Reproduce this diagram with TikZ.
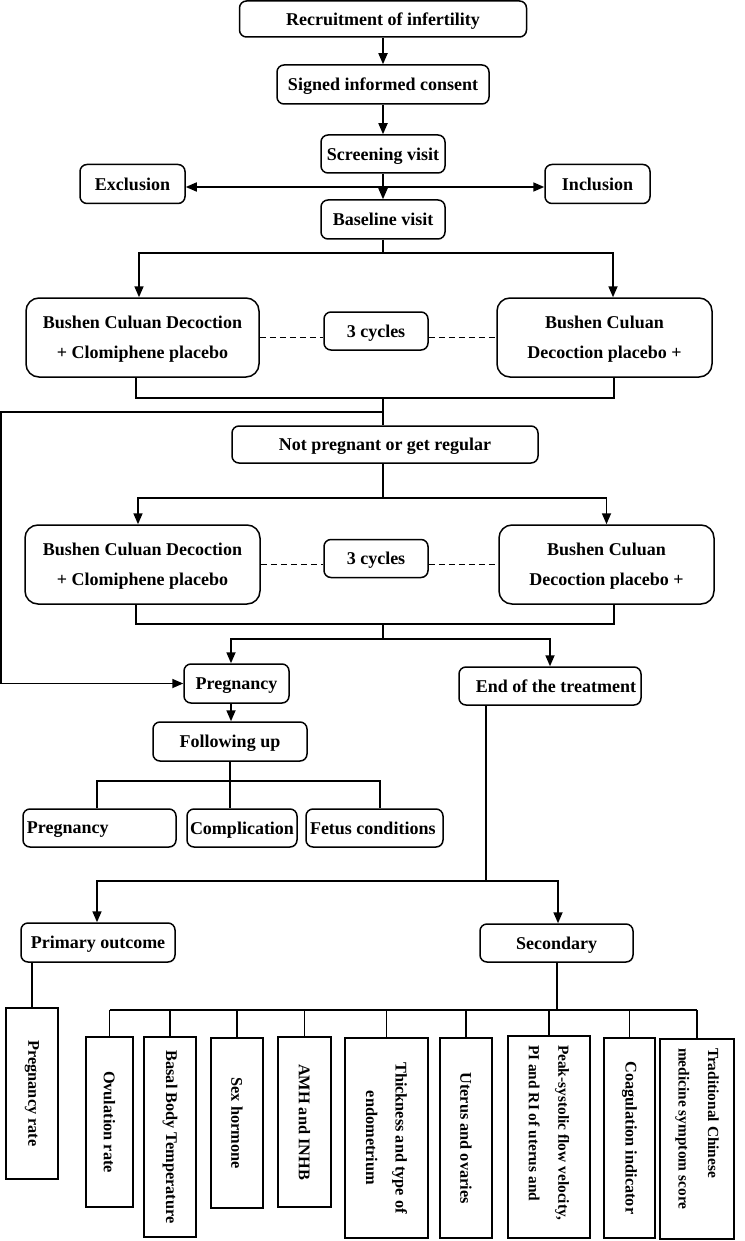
\documentclass[tikz,border=0pt]{standalone}
\usepackage{fontspec}
\setmainfont{Liberation Serif}
\usetikzlibrary{arrows.meta,calc}
\begin{document}
\begin{tikzpicture}[x=1pt,y=-1pt,
  box/.style={draw,line width=1.5pt,rounded corners=7pt,font=\fontsize{18}{29.5}\selectfont\bfseries,inner sep=2pt,align=flush center,text depth=0pt},
  bigbox/.style={box,rounded corners=13pt},
  vbox/.style={draw,line width=1.5pt,font=\fontsize{16.3}{29.5}\selectfont\bfseries,inner sep=0pt,rotate=-90,align=flush center},
  vboxs/.style={vbox,font=\fontsize{15.4}{29.5}\selectfont\bfseries,align=flush left},
  ln/.style={line width=1.3pt},
  arr/.style={line width=1.7pt,-{Triangle[length=11pt,width=9pt]}},
  darr/.style={line width=1.7pt,{Triangle[length=11pt,width=9pt]}-{Triangle[length=11pt,width=9pt]}},
  dsh/.style={line width=1.6pt,dash pattern=on 6pt off 4pt}
]
\useasboundingbox[fill=white] (0,0) rectangle (744,1241);

% top chain
\node[box,minimum width=287pt,minimum height=36pt] (rec) at (383,19) {Recruitment of infertility};
\node[box,minimum width=212pt,minimum height=39pt] (sig) at (383,84.5) {Signed informed consent};
\node[box,minimum width=124pt,minimum height=38pt] (scr) at (383,154) {Screening visit};
\node[box,minimum width=105pt,minimum height=39pt] (exc) at (132.5,184) {Exclusion};
\node[box,minimum width=105pt,minimum height=39pt] (inc) at (597.5,184) {Inclusion};
\node[box,minimum width=124pt,minimum height=39pt] (base) at (383,219.5) {Baseline visit};

% first treatment row
\node[bigbox,minimum width=233pt,minimum height=79pt] (A1) at (142.5,337.5) {Bushen Culuan Decoction\\+ Clomiphene placebo};
\node[box,minimum width=104pt,minimum height=38pt] (C1) at (376,331) {3 cycles};
\node[bigbox,minimum width=215pt,minimum height=79pt] (B1) at (604.5,337.5) {Bushen Culuan\\Decoction placebo +};

\node[box,minimum width=306pt,minimum height=37pt] (np) at (385,444.5) {Not pregnant or get regular};

% second treatment row
\node[bigbox,minimum width=235pt,minimum height=79pt] (A2) at (142.5,564.5) {Bushen Culuan Decoction\\+ Clomiphene placebo};
\node[box,minimum width=104pt,minimum height=38pt] (C2) at (376,558.5) {3 cycles};
\node[bigbox,minimum width=215pt,minimum height=79pt] (B2) at (606.5,564.5) {Bushen Culuan\\Decoction placebo +};

% outcomes
\node[box,minimum width=105pt,minimum height=39pt] (preg) at (236.5,683.5) {Pregnancy};
\node[box,minimum height=38pt,inner xsep=5pt] (end) at (550,686) {\makebox[172pt][r]{End of the treatment}};
\node[box,minimum width=154pt,minimum height=39pt] (fol) at (230,741.5) {Following up};
\node[box,minimum height=38pt,inner xsep=4pt] (p2) at (99.5,828) {\makebox[145pt][l]{Pregnancy}};
\node[box,minimum width=110pt,minimum height=38pt] (comp) at (242,828) {Complication};
\node[box,minimum height=38pt,inner xsep=4pt] (fet) at (374.5,828) {\makebox[129pt][l]{Fetus conditions}};
\node[box,minimum width=154pt,minimum height=39pt] (prim) at (98,942.5) {Primary outcome};
\node[box,minimum width=153pt,minimum height=38pt] (sec) at (556.5,943) {Secondary};

% vertical boxes (minimum width = visual height, minimum height = visual width)
\node[vbox,minimum width=171pt,minimum height=52pt] (pr) at (32,1093.5) {Pregnancy rate};
\node[vbox,minimum width=170pt,minimum height=47pt] (ov) at (109.5,1122) {Ovulation rate};
\node[vbox,minimum width=200pt,minimum height=52pt] (bbt) at (170,1137) {Basal Body Temperature};
\node[vbox,minimum width=170pt,minimum height=52pt] (sex) at (237,1123) {Sex hormone};
\node[vbox,minimum width=170pt,minimum height=53pt] (amh) at (304.5,1122) {AMH and INHB};
\node[vbox,minimum width=200pt,minimum height=83pt] (thk) at (386.5,1138) {Thickness and type of\\endometrium};
\node[vbox,minimum width=200pt,minimum height=52pt] (ut) at (466,1138) {Uterus and ovaries};
\node[vboxs,minimum width=202pt,minimum height=82pt,text width=184pt] (pk) at (549,1137) {Peak-systolic flow velocity,\\PI and RI of uterus and};
\node[vbox,minimum width=200pt,minimum height=51pt] (coag) at (629.5,1138) {Coagulation indicator};
\node[vboxs,minimum width=200pt,minimum height=74pt,text width=182pt] (tcm) at (697,1139) {Traditional Chinese\\medicine symptom score};

% junction coordinates
\coordinate (xl) at (383,187);
\coordinate (j1) at (383,253);
\coordinate (j2) at (383,398);
\coordinate (j3) at (383,412);
\coordinate (lp) at (1,412);
\coordinate (j4) at (383,498);
\coordinate (j5) at (383,624);
\coordinate (j6) at (383,639);
\coordinate (j7) at (230,781);
\coordinate (j8) at (486,881);
\coordinate (j9) at (557,1010);

% top connectors
\draw[arr] (rec.south) -- (sig.north);
\draw[arr] (sig.south) -- (scr.north);
\draw[arr] (scr.south) -- (base.north);
\draw[darr] (xl -| exc.east) -- (xl -| inc.west);

% baseline to first row
\draw[ln] (base.south) -- (j1);
\draw[arr] (j1) -| ([xshift=-3.5pt]A1.north);
\draw[arr] (j1) -| ([xshift=8.5pt]B1.north);
\draw[dsh] (A1.east) -- (A1.east -| C1.west);
\draw[dsh] (C1.east |- B1.west) -- (B1.west);
\draw[ln] ([xshift=-6.5pt]A1.south) |- (j2);
\draw[ln] ([xshift=9.5pt]B1.south) |- (j2);
\draw[ln] (j2) -- (j2 |- np.north);
\draw[arr] (j3) -- (lp) |- (preg.west);

% second row
\draw[ln] (j4 |- np.south) -- (j4);
\draw[arr] (j4) -| ([xshift=-4.5pt]A2.north);
\draw[arr] (j4) -| (B2.north);
\draw[dsh] (A2.east) -- (A2.east -| C2.west);
\draw[dsh] (C2.east |- B2.west) -- (B2.west);
\draw[ln] ([xshift=-6.5pt]A2.south) |- (j5);
\draw[ln] ([xshift=7.5pt]B2.south) |- (j5);
\draw[ln] (j5) -- (j6);
\draw[arr] (j6) -| ([xshift=-5.5pt]preg.north);
\draw[arr] (j6) -| (end.north);

% follow up
\draw[arr] ([xshift=-5.5pt]preg.south) -- ([xshift=-5.5pt]preg.south |- fol.north);
\draw[ln] (fol.south) -- (fol.south |- comp.north);
\draw[ln] ([xshift=-2.5pt]p2.north) |- (j7) -| ([xshift=5.5pt]fet.north);

% end of treatment
\draw[ln] ([xshift=-64pt]end.south) -- (j8);
\draw[arr] (j8) -| ([xshift=-1pt]prim.north);
\draw[arr] (j8) -| ([xshift=1.5pt]sec.north);

% primary
\draw[ln] (prim.south -| pr.west) -- (pr.west);

% secondary bus
\draw[ln] (sec.south -| j9) -- (j9);
\draw[ln] (ov.west |- j9) -- (tcm.west |- j9);
\foreach \n in {ov,bbt,sex,amh,thk,ut,pk,coag,tcm}
  \draw[ln] (\n.west |- j9) -- (\n.west);
\end{tikzpicture}
\end{document}
